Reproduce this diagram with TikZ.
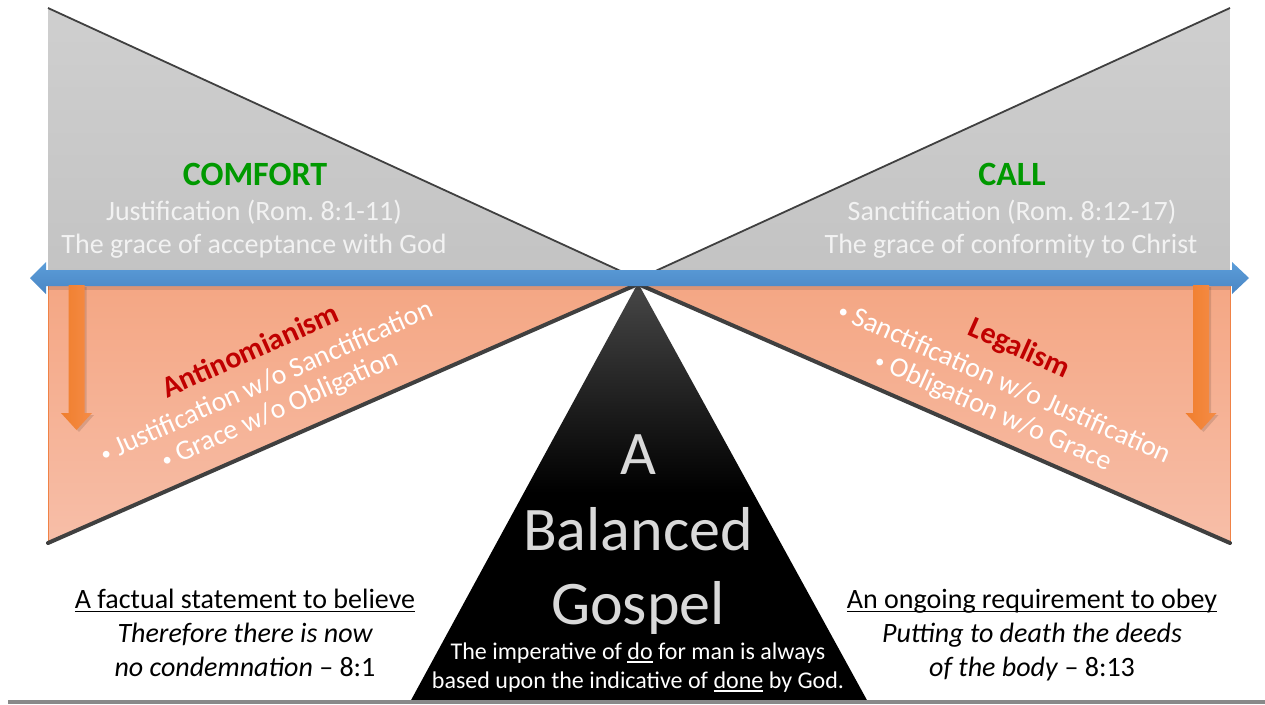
\documentclass[tikz,border=0pt]{standalone}
\usepackage{fontspec}
\setmainfont{Carlito}
\definecolor{ttlgreen}{RGB}{0,153,0}
\definecolor{ttlred}{RGB}{192,0,0}
\definecolor{txtwhite}{RGB}{242,242,242}
\definecolor{biggray}{RGB}{217,217,217}
\definecolor{graytop}{RGB}{207,207,207}
\definecolor{graybot}{RGB}{195,195,195}
\definecolor{salmtop}{RGB}{244,166,131}
\definecolor{salmbot}{RGB}{247,190,168}
\definecolor{salmedge}{RGB}{240,130,70}
\definecolor{arrblue}{RGB}{91,157,217}
\definecolor{arrbluedk}{RGB}{74,134,196}
\definecolor{arrorange}{RGB}{240,126,45}
\definecolor{arrorangelt}{RGB}{245,140,70}
\definecolor{darkline}{RGB}{64,64,64}
\definecolor{bottomgray}{RGB}{137,137,137}
\newcommand{\myul}[1]{\setbox0=\hbox{#1}\rlap{\rule[-0.16em]{\wd0}{0.065em}}\box0\relax}
\newcommand{\fs}[1]{\fontsize{#1}{#1}\selectfont}
\newcommand{\smbul}{{\fontsize{19}{19}\selectfont\raisebox{1.5pt}{•}}}
\frenchspacing
\begin{document}
\begin{tikzpicture}[x=1pt,y=-1pt,
  hyp/.style={draw=darkline, line width=4pt, line cap=round},
  thinhyp/.style={draw=darkline, line width=1.8pt},
  txt/.style={inner sep=0pt, anchor=base},
  rtxt/.style={inner sep=0pt, anchor=center},
  grayfill/.style={top color=graytop, bottom color=graybot, draw=none},
  salmfill/.style={top color=salmtop, bottom color=salmbot, draw=none},
  orarrow/.style={left color=arrorange, right color=arrorangelt, draw=none}]
\useasboundingbox (0,0) rectangle (1265,704);
\fill[white] (0,0) rectangle (1265,704);

% gray triangles
\shade[grayfill] (48,8) -- (48,279) -- (638,279) -- cycle;
\shade[grayfill] (1230,8) -- (1230,279) -- (638,279) -- cycle;
\draw[thinhyp] (48,8) -- (638,279);
\draw[thinhyp] (1230,8) -- (638,279);

% salmon triangles
\shade[salmfill] (48,279) -- (48,543) -- (638,284) -- cycle;
\shade[salmfill] (1230,279) -- (1230,543) -- (638,284) -- cycle;
\draw[salmedge, line width=0.8pt] (48,284) -- (48,543);
\draw[salmedge, line width=0.8pt] (1230,284) -- (1230,543);
\draw[hyp] (48,543) -- (638,284);
\draw[hyp] (1230,543) -- (638,284);

% black triangle
\shade[top color=black!72, bottom color=black, middle color=black] (638,283) -- (410,702) -- (868,702) -- cycle;

% shadow under blue arrow
\fill[black, opacity=0.10] (48,286) rectangle (1230,290);

% blue double arrow
\shade[top color=arrblue, bottom color=arrbluedk, draw=none]
  (30,278) -- (46,262) -- (46,270) -- (1232,270) -- (1232,262) -- (1249,278)
  -- (1232,294) -- (1232,286) -- (46,286) -- (46,294) -- cycle;

% orange arrows
\fill[black, opacity=0.12] (70.5,287) -- (86.5,287) -- (86.5,415) -- (94,415) -- (79,432) -- (64,415) -- (70.5,415) -- cycle;
\shade[orarrow] (68.5,285) -- (84.5,285) -- (84.5,413) -- (92,413) -- (76.5,430) -- (61,413) -- (68.5,413) -- cycle;
\fill[black, opacity=0.12] (1195,287) -- (1211,287) -- (1211,415) -- (1218.5,415) -- (1203.5,432) -- (1188.5,415) -- (1195,415) -- cycle;
\shade[orarrow] (1193,285) -- (1209,285) -- (1209,413) -- (1216.5,413) -- (1201,430) -- (1185.5,413) -- (1193,413) -- cycle;

% bottom line
\draw[draw=bottomgray, line width=4pt] (8,702) -- (1265,702);

% top texts
\node[txt, text=ttlgreen, font=\fs{34}\bfseries] (comfort) at (255,185) {COMFORT};
\node[txt, text=txtwhite, font=\fs{28}] (just) at (254,220) {Justification (Rom. 8:1-11)};
\node[txt, text=txtwhite, font=\fs{28}] (accept) at (254,253) {The grace of acceptance with God};
\node[txt, text=ttlgreen, font=\fs{34}\bfseries] (call) at (1012,185) {CALL};
\node[txt, text=txtwhite, font=\fs{28}] (sanct) at (1012,220) {Sanctification (Rom. 8:12-17)};
\node[txt, text=txtwhite, font=\fs{28}] (conform) at (1011,253) {The grace of conformity to Christ};

% rotated texts
\node[rtxt, rotate=24, text=ttlred, font=\fs{30}\bfseries] (anti) at (250,350) {Antinomianism};
\node[rtxt, rotate=24, text=white, font=\fs{28}] (anti1) at (266,381) {\smbul\ Justification w/o Sanctification};
\node[rtxt, rotate=24, text=white, font=\fs{28}] (anti2) at (280,410) {\smbul\ Grace w/o Obligation};
\node[rtxt, rotate=-24, text=ttlred, font=\fs{30}\bfseries] (legal) at (1019,349) {Legalism};
\node[rtxt, rotate=-24, text=white, font=\fs{28}] (legal1) at (1005,382) {\smbul\ Sanctification w/o Justification};
\node[rtxt, rotate=-24, text=white, font=\fs{28}] (legal2) at (993,412) {\smbul\ Obligation w/o Grace};

% black triangle texts
\node[txt, text=biggray, font=\fs{62}] (bA) at (638,474) {A};
\node[txt, text=biggray, font=\fs{62}] (bBal) at (638,550) {Balanced};
\node[txt, text=biggray, font=\fs{62}] (bGos) at (638,624) {Gospel};
\node[txt, text=white, font=\fs{24}] (imp1) at (638,659) {The imperative of \myul{do} for man is always};
\node[txt, text=white, font=\fs{24}] (imp2) at (638,688) {based upon the indicative of \myul{done} by God.};

% bottom texts
\node[txt, text=black, font=\fs{28}] (fact) at (245,608) {\myul{A factual statement to believe}};
\node[txt, text=black, font=\fs{28}\itshape] (there) at (245,642) {Therefore there is now};
\node[txt, text=black, font=\fs{28}] (nocond) at (245,676) {\textit{no condemnation} – 8:1};
\node[txt, text=black, font=\fs{28}] (ongo) at (1032,608) {\myul{An ongoing requirement to obey}};
\node[txt, text=black, font=\fs{28}\itshape] (putt) at (1032,642) {Putting to death the deeds};
\node[txt, text=black, font=\fs{28}] (body) at (1032,676) {\textit{of the body} – 8:13};
\end{tikzpicture}
\end{document}
